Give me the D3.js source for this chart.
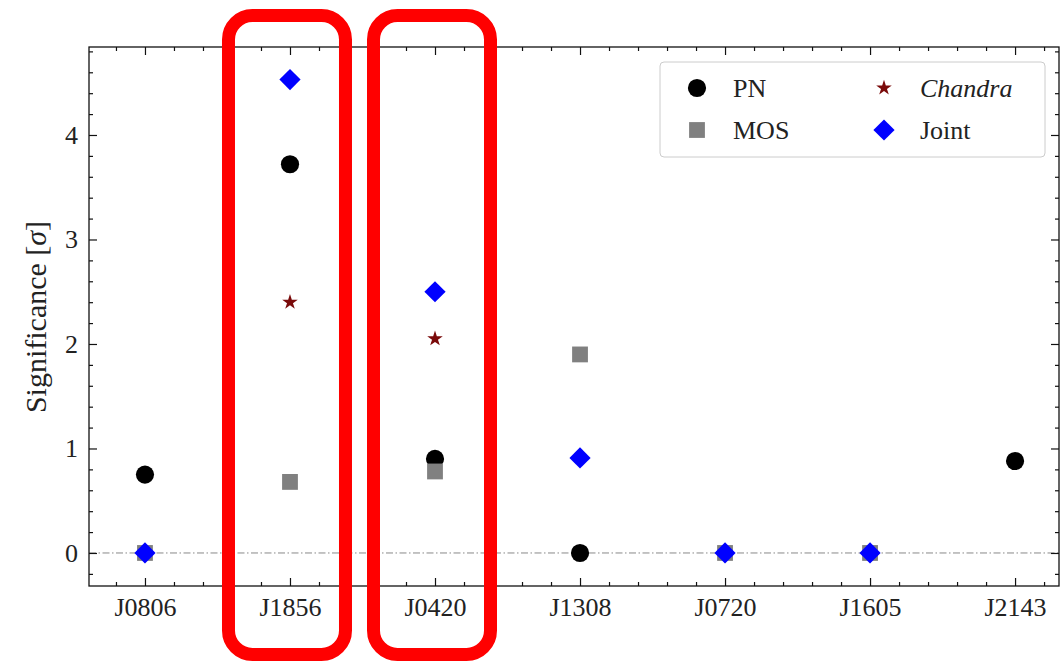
<!DOCTYPE html>
<html>
<head>
<meta charset="utf-8">
<script src="https://cdn.jsdelivr.net/npm/d3@7"></script>
<style>
  body { margin: 0; background: #fff; }
  text { font-family: "Liberation Serif", "DejaVu Serif", serif; fill: #222; }
</style>
</head>
<body>
<svg id="chart" width="1061" height="665"></svg>
<script>
// sources along the x axis
var sources = ["J0806", "J1856", "J0420", "J1308", "J0720", "J1605", "J2143"];
// significance per instrument (null = not shown)
var pn      = [0.75, 3.72, 0.90, 0.00, null, null, 0.88];
var mos     = [0.00, 0.68, 0.78, 1.90, 0.00, 0.00, null];
var chandra = [null, 2.40, 2.05, null, null, null, null];
var joint   = [0.00, 4.53, 2.50, 0.91, 0.00, 0.00, null];
var yTicks = [0, 1, 2, 3, 4];
// sources to highlight with red frames
var boxed = ["J1856", "J0420"];

var svg = d3.select("#chart");
var pL = 89, pR = 1059, pT = 47, pB = 586;

var x = d3.scaleLinear().domain([-0.386, 6.303]).range([pL, pR]);
var y = d3.scaleLinear().domain([-0.316, 4.842]).range([pB, pT]);

var minorX = d3.range(-0.2, 6.3, 0.2).filter(d => Math.abs(d - Math.round(d)) > 0.01);
var minorY = d3.range(-0.2, 4.85, 0.2).filter(d => Math.abs(d - Math.round(d)) > 0.01);

function styleAxis(g) {
    g.select(".domain").remove();
    g.selectAll("line").attr("stroke", "#111").attr("stroke-width", 1.2);
    g.selectAll("text").style("font-size", "26px").style("font-family", "'Liberation Serif', serif").attr("fill", "#222");
}

// zero line
svg.append("line")
    .attr("x1", pL).attr("x2", pR)
    .attr("y1", y(0)).attr("y2", y(0))
    .attr("stroke", "#888").attr("stroke-width", 1)
    .attr("stroke-dasharray", "7,2.5,1.5,2.5");

// bottom axis
svg.append("g").attr("transform", "translate(0," + pB + ")")
    .call(d3.axisBottom(x).tickValues(d3.range(sources.length)).tickFormat(i => sources[i])
        .tickSizeInner(-8).tickSizeOuter(0).tickPadding(12))
    .call(styleAxis);
svg.append("g").attr("transform", "translate(0," + pB + ")")
    .call(d3.axisBottom(x).tickValues(minorX).tickFormat("").tickSizeInner(-4).tickSizeOuter(0))
    .call(styleAxis);
// top axis
svg.append("g").attr("transform", "translate(0," + pT + ")")
    .call(d3.axisTop(x).tickValues(d3.range(sources.length)).tickFormat("").tickSizeInner(-8).tickSizeOuter(0))
    .call(styleAxis);
svg.append("g").attr("transform", "translate(0," + pT + ")")
    .call(d3.axisTop(x).tickValues(minorX).tickFormat("").tickSizeInner(-4).tickSizeOuter(0))
    .call(styleAxis);
// left axis
svg.append("g").attr("transform", "translate(" + pL + ",0)")
    .call(d3.axisLeft(y).tickValues(yTicks).tickFormat(d3.format("d"))
        .tickSizeInner(-8).tickSizeOuter(0).tickPadding(11))
    .call(styleAxis);
svg.append("g").attr("transform", "translate(" + pL + ",0)")
    .call(d3.axisLeft(y).tickValues(minorY).tickFormat("").tickSizeInner(-4).tickSizeOuter(0))
    .call(styleAxis);
// right axis
svg.append("g").attr("transform", "translate(" + pR + ",0)")
    .call(d3.axisRight(y).tickValues(yTicks).tickFormat("").tickSizeInner(-8).tickSizeOuter(0))
    .call(styleAxis);
svg.append("g").attr("transform", "translate(" + pR + ",0)")
    .call(d3.axisRight(y).tickValues(minorY).tickFormat("").tickSizeInner(-4).tickSizeOuter(0))
    .call(styleAxis);

// frame
svg.append("rect")
    .attr("x", pL).attr("y", pT)
    .attr("width", pR - pL).attr("height", pB - pT)
    .attr("fill", "none").attr("stroke", "#111").attr("stroke-width", 1.3);

// y label
svg.append("text")
    .attr("transform", "translate(46,317) rotate(-90)")
    .attr("text-anchor", "middle")
    .style("font-size", "30px")
    .html("Significance [<tspan font-style='italic'>σ</tspan>]");

// markers
var series = [
    { name: "PN", values: pn, color: "#000", type: "circle" },
    { name: "MOS", values: mos, color: "#808080", type: "square" },
    { name: "Chandra", values: chandra, color: "#7a0a0a", type: "star" },
    { name: "Joint", values: joint, color: "#0000ff", type: "diamond" }
];

function shape(type) {
    if (type == "circle") return d3.symbol().type(d3.symbolCircle).size(260)();
    if (type == "square") return d3.symbol().type(d3.symbolSquare).size(250)();
    if (type == "star") return d3.symbol().type(d3.symbolStar).size(75)();
    return d3.symbol().type(d3.symbolSquare).size(225)();
}
function rot(type) { return type == "diamond" ? " rotate(45)" : ""; }

series.forEach(function(s) {
    var pts = s.values.map((v, i) => ({ i: i, v: v })).filter(d => d.v !== null);
    svg.append("g").selectAll("path").data(pts).join("path")
        .attr("d", shape(s.type))
        .attr("transform", d => "translate(" + x(d.i) + "," + y(d.v) + ")" + rot(s.type))
        .attr("fill", s.color);
});

// legend
var lg = svg.append("g").attr("transform", "translate(660,62)");
lg.append("rect").attr("width", 385).attr("height", 95).attr("rx", 4)
    .attr("fill", "#fff").attr("fill-opacity", 0.85)
    .attr("stroke", "#ccc").attr("stroke-width", 1);
var legendPos = [[37, 26], [37, 68], [224, 26], [224, 68]];
series.forEach(function(s, k) {
    var p = legendPos[k];
    lg.append("path").attr("d", shape(s.type))
        .attr("transform", "translate(" + p[0] + "," + p[1] + ")" + rot(s.type))
        .attr("fill", s.color);
    lg.append("text").attr("x", p[0] + 36).attr("y", p[1] + 9)
        .style("font-size", "26px")
        .style("font-style", s.name == "Chandra" ? "italic" : "normal")
        .text(s.name);
});

// red highlight frames
svg.append("g").selectAll("rect").data(boxed).join("rect")
    .attr("x", d => x(sources.indexOf(d)) - 61.5)
    .attr("y", 15.5)
    .attr("width", 117).attr("height", 639)
    .attr("rx", 24).attr("ry", 24)
    .attr("fill", "none").attr("stroke", "#ff0000").attr("stroke-width", 13);
</script>
</body>
</html>
